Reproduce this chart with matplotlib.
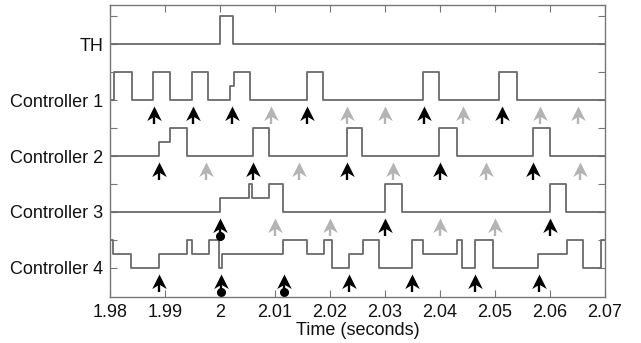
import numpy as np
import matplotlib
matplotlib.use("Agg")
import matplotlib.pyplot as plt
from matplotlib.path import Path

plt.rcParams["font.family"] = ["Liberation Sans", "DejaVu Sans"]

# Signal edges (time of change) and level after each edge
th_t = [1.98, 2.0, 2.0024]
th_v = [0, 1, 0]

c1_t = [1.98, 1.98073, 1.98395, 1.98787, 1.99091, 1.99496, 1.99787, 2.00182, 2.00255,
        2.00545, 2.01587, 2.01878, 2.03696, 2.03987, 2.05078, 2.05394]
c1_v = [0, 1, 0, 1, 0, 1, 0, 0.5, 1, 0, 1, 0, 1, 0, 1, 0]

c2_t = [1.98, 1.98896, 1.99091, 1.99395, 2.00595, 2.00896, 2.02304, 2.02573, 2.03987,
        2.04304, 2.05696, 2.06]
c2_v = [0, 0.5, 1, 0, 1, 0, 1, 0, 1, 0, 1, 0]

c3_t = [1.98, 2.0, 2.00533, 2.00576, 2.00896, 2.0114, 2.03, 2.03304, 2.06, 2.06291]
c3_v = [0, 0.5, 1, 0.5, 1, 0, 1, 0, 1, 0]

c4_t = [1.98, 1.9806, 1.98382, 1.98896, 1.99405, 1.99496, 1.998, 1.99987, 2.00031,
        2.0114, 2.01587, 2.01891, 2.02042, 2.02351, 2.02595, 2.02896, 2.03485, 2.03696,
        2.04304, 2.04395, 2.04636, 2.04958, 2.05787, 2.06304, 2.06591, 2.06922]
c4_v = [1, 0.5, 0, 0.5, 1, 0.5, 1, 0, 0.5, 1, 0.5, 1, 0, 0.5, 1, 0, 1, 0.5, 1, 0, 1, 0,
        0.5, 1, 0, 1]

# Arrows: time, black (True) / grey (False), dot at tail
c1_arrows = [1.9880, 1.99504, 2.00213, 2.00922, 2.01587, 2.02304, 2.03, 2.03715,
             2.04413, 2.05122, 2.05818, 2.06515]
c1_black = [True, True, True, False, True, False, False, True, False, True, False, False]
c1_dot = [False] * 12

c2_arrows = [1.98896, 1.99745, 2.00595, 2.01442, 2.02304, 2.0314, 2.04, 2.04836,
             2.05696, 2.06545]
c2_black = [True, False, True, False, True, False, True, False, True, False]
c2_dot = [False] * 10

c3_arrows = [2.0, 2.01, 2.02, 2.03, 2.04, 2.05, 2.06]
c3_black = [True, False, False, True, False, False, True]
c3_dot = [True, False, False, False, False, False, False]

c4_arrows = [1.98896, 2.00013, 2.01164, 2.02351, 2.03485, 2.04636, 2.05805]
c4_black = [True] * 7
c4_dot = [False, True, True, False, False, False, False]

labels = ["Controller 4", "Controller 3", "Controller 2", "Controller 1", "TH"]
baselines = [0, 2, 4, 6, 8]
x_end = 2.07

fig = plt.figure(figsize=(6.41, 3.43), dpi=100)
ax = fig.add_axes([110 / 641, 1 - 297 / 343, 495 / 641, 292 / 343])

line_col = "#6a6a6a"
signals = [(c4_t, c4_v), (c3_t, c3_v), (c2_t, c2_v), (c1_t, c1_v), (th_t, th_v)]
for (t, v), base in zip(signals, baselines):
    tt = list(t) + [x_end]
    vv = [base + x for x in v] + [base + v[-1]]
    ax.plot(tt, vv, drawstyle="steps-post", color=line_col, lw=1.3)

# notched arrow head marker, tip at origin
head = Path([(0, 0), (0.5, -1), (0, -0.7), (-0.5, -1), (0, 0)],
            [Path.MOVETO, Path.LINETO, Path.LINETO, Path.LINETO, Path.CLOSEPOLY])

arrow_sets = [(c1_arrows, c1_black, c1_dot, 6), (c2_arrows, c2_black, c2_dot, 4),
              (c3_arrows, c3_black, c3_dot, 2), (c4_arrows, c4_black, c4_dot, 0)]
for times, blacks, dots, base in arrow_sets:
    for t, b, d in zip(times, blacks, dots):
        col = "black" if b else "#b4b4b4"
        tip = base - 0.2
        tail = base - 0.86
        ax.plot([t, t], [tail, tip - 0.25], color=col, lw=1.7, solid_capstyle="butt")
        ax.plot([t], [tip], marker=head, markersize=21, color=col, mec=col, mew=0)
        if d:
            ax.plot([t], [tail], marker="o", markersize=5.5, color=col)

ax.set_xlim(1.98, 2.07)
ax.set_ylim(-1.04, 9.4)
xt = [1.98, 1.99, 2.0, 2.01, 2.02, 2.03, 2.04, 2.05, 2.06, 2.07]
ax.set_xticks(xt)
ax.set_xticklabels(["1.98", "1.99", "2", "2.01", "2.02", "2.03", "2.04", "2.05", "2.06", "2.07"])
ax.set_yticks(range(0, 10))
ylab = []
for i in range(10):
    ylab.append(labels[i // 2] if i % 2 == 0 else "")
ax.set_yticklabels(ylab)
ax.tick_params(direction="in", length=5, width=0.8, color="#777777",
               top=True, right=True, labelsize=13, labelcolor="#111111", pad=5)
ax.set_xlabel("Time (seconds)", fontsize=13, color="#111111", labelpad=1)
for s in ax.spines.values():
    s.set_color("#777777")
    s.set_linewidth(1.0)

fig.savefig("out.png", dpi=100)
